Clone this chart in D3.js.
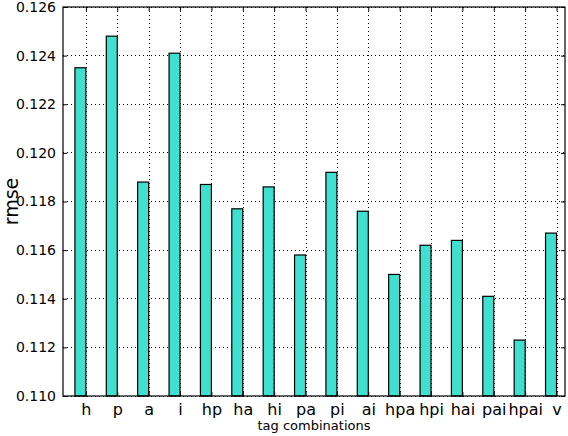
<!DOCTYPE html>
<html><head><meta charset="utf-8">
<script src="https://cdn.jsdelivr.net/npm/d3@7"></script>
<style>body{margin:0;background:#fff}svg{display:block;font-family:"DejaVu Sans",sans-serif}</style>
</head><body>
<svg id="c" width="568" height="436"></svg>
<script>
const categories = ["h","p","a","i","hp","ha","hi","pa","pi","ai","hpa","hpi","hai","pai","hpai","v"];
const rmse = [0.1235,0.1248,0.1188,0.1241,0.1187,0.1177,0.1186,0.1158,0.1192,0.1176,0.1150,0.1162,0.1164,0.1141,0.1123,0.1167];
const yTicks = [0.110,0.112,0.114,0.116,0.118,0.120,0.122,0.124,0.126];

const svg = d3.select("#c");
const L=63, T=7, R=565, B=396;
const barW = 0.35;
const x = d3.scaleLinear().domain([-0.38, 15.62]).range([L, R]);
const y = d3.scaleLinear().domain([0.110, 0.126]).range([B, T]);

const g = svg.append("g");
// grid
g.selectAll(".gy").data(yTicks).join("line")
  .attr("x1",L).attr("x2",R).attr("y1",d=>y(d)).attr("y2",d=>y(d))
  .attr("stroke","#000").attr("stroke-width",1).attr("stroke-dasharray","1,3").attr("shape-rendering","crispEdges");
g.selectAll(".gx").data(categories).join("line")
  .attr("x1",(d,i)=>Math.round(x(i+barW))+0.5).attr("x2",(d,i)=>Math.round(x(i+barW))+0.5).attr("y1",T).attr("y2",B)
  .attr("stroke","#000").attr("stroke-width",1).attr("stroke-dasharray","1,3");
// bars
g.selectAll(".bar").data(rmse).join("rect")
  .attr("x",(d,i)=>x(i)).attr("width",x(barW)-x(0))
  .attr("y",d=>y(d)).attr("height",d=>B-y(d))
  .attr("fill","#40E0D0").attr("stroke","#000").attr("stroke-width",1.2);
// frame
svg.append("rect").attr("x",L).attr("y",T).attr("width",R-L).attr("height",B-T)
  .attr("fill","none").attr("stroke","#000").attr("stroke-width",1.2);
// y axis
const ya = svg.append("g").attr("transform",`translate(${L},0)`)
  .call(d3.axisLeft(y).tickValues(yTicks).tickFormat(d3.format(".3f")).tickSizeInner(-4).tickSizeOuter(0).tickPadding(7));
ya.select(".domain").remove();
ya.selectAll("text").attr("font-size",14).attr("fill","#000").attr("font-family","DejaVu Sans");
ya.selectAll("line").attr("stroke","#000");
const ya2 = svg.append("g").attr("transform",`translate(${R},0)`)
  .call(d3.axisRight(y).tickValues(yTicks).tickSizeInner(-4).tickSizeOuter(0).tickFormat(""));
ya2.select(".domain").remove();
// x axis
const xa = svg.append("g").attr("transform",`translate(0,${B})`)
  .call(d3.axisBottom(x).tickValues(categories.map((d,i)=>i+barW)).tickFormat((d,i)=>categories[i]).tickSizeInner(-4).tickSizeOuter(0).tickPadding(8));
xa.select(".domain").remove();
xa.selectAll("text").attr("font-size",16).attr("fill","#000").attr("font-family","DejaVu Sans");
xa.selectAll("line").attr("stroke","#000");
const xa2 = svg.append("g").attr("transform",`translate(0,${T})`)
  .call(d3.axisTop(x).tickValues(categories.map((d,i)=>i+barW)).tickSizeInner(-4).tickSizeOuter(0).tickFormat(""));
xa2.select(".domain").remove();
// labels
svg.append("text").attr("x",(L+R)/2).attr("y",430).attr("text-anchor","middle")
  .attr("font-size",13).text("tag combinations");
svg.append("text").attr("transform",`translate(18,${(T+B)/2}) rotate(-90)`).attr("text-anchor","middle")
  .attr("font-size",19).text("rmse");
</script>
</body></html>
